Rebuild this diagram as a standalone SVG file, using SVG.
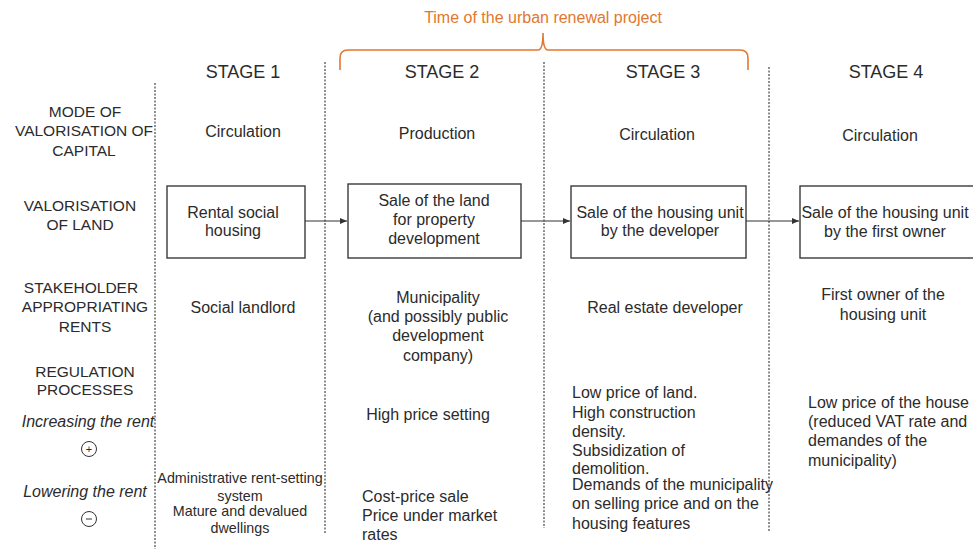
<svg xmlns="http://www.w3.org/2000/svg" width="973" height="549" viewBox="0 0 973 549">
  <style>
    text { font-family: "Liberation Sans", Arial, sans-serif; fill: #2b2b2b; }
    .hd { font-size: 18px; text-anchor: middle; }
    .lbl { font-size: 15.5px; text-anchor: middle; }
    .t { font-size: 16px; text-anchor: middle; }
    .tl { font-size: 16px; }
    .sm { font-size: 14.3px; text-anchor: middle; }
    .it { font-size: 16px; font-style: italic; text-anchor: middle; }
    .box { fill: #ffffff; stroke: #3a3a3a; stroke-width: 1.4; }
    .sep { stroke: #333; stroke-width: 1.1; stroke-dasharray: 2 1.5; fill: none; }
    .edge { stroke: #333; stroke-width: 1.2; fill: none; marker-end: url(#arr); }
    .orange { fill: #E2772F; font-size: 16px; text-anchor: middle; }
    .brace { stroke: #E2772F; stroke-width: 1.6; fill: none; }
    .sign { fill: none; stroke: #333; stroke-width: 1; }
  </style>
  <defs>
    <marker id="arr" markerWidth="8" markerHeight="8" refX="7" refY="4" orient="auto" markerUnits="userSpaceOnUse">
      <path d="M0,1 L7,4 L0,7 Z" fill="#333"/>
    </marker>
  </defs>

  <!-- column separators -->
  <g id="separators">
    <line class="sep" x1="155" y1="83" x2="155" y2="549"/>
    <line class="sep" x1="325" y1="62" x2="325" y2="534"/>
    <line class="sep" x1="544" y1="62" x2="544" y2="528"/>
    <line class="sep" x1="769" y1="67" x2="769" y2="532"/>
  </g>

  <!-- project duration brace -->
  <g id="project-time">
    <path class="brace" d="M340,70 L340,58 Q340,50 348,50 L538,50 Q543,50 543,33 Q543,50 548,50 L740,50 Q748,50 748,58 L748,70"/>
    <text class="orange" x="543" y="23">Time  of the urban  renewal  project</text>
  </g>

  <!-- stage headings -->
  <g id="headings">
    <text class="hd" x="243" y="78">STAGE 1</text>
    <text class="hd" x="442" y="78">STAGE 2</text>
    <text class="hd" x="663" y="78">STAGE 3</text>
    <text class="hd" x="886" y="78">STAGE 4</text>
  </g>

  <!-- row labels -->
  <g id="row-labels">
    <text class="lbl" x="85" y="117">MODE OF</text>
    <text class="lbl" x="84" y="136">VALORISATION  OF</text>
    <text class="lbl" x="84" y="156">CAPITAL</text>
    <text class="lbl" x="80" y="211">VALORISATION</text>
    <text class="lbl" x="80" y="230">OF LAND</text>
    <text class="lbl" x="81" y="293">STAKEHOLDER</text>
    <text class="lbl" x="85" y="312">APPROPRIATING</text>
    <text class="lbl" x="85" y="332">RENTS</text>
    <text class="lbl" x="85" y="377">REGULATION</text>
    <text class="lbl" x="85" y="395">PROCESSES</text>
    <text class="it" x="88" y="427">Increasing the rent</text>
    <circle class="sign" cx="89" cy="449" r="7.5"/>
    <text x="89" y="453" style="font-size:11px;text-anchor:middle">+</text>
    <text class="it" x="85" y="497">Lowering the rent</text>
    <circle class="sign" cx="89" cy="519" r="7.5"/>
    <line x1="86" y1="519" x2="92" y2="519" stroke="#333" stroke-width="1"/>
  </g>

  <!-- mode of valorisation of capital -->
  <g id="capital-mode">
    <text class="t" x="243" y="137">Circulation</text>
    <text class="t" x="437" y="139">Production</text>
    <text class="t" x="657" y="140">Circulation</text>
    <text class="t" x="880" y="141">Circulation</text>
  </g>

  <!-- connectors between land valorisation steps -->
  <g id="connectors">
    <line class="edge" x1="305" y1="221" x2="347" y2="221"/>
    <line class="edge" x1="521" y1="221" x2="570" y2="221"/>
    <line class="edge" x1="746" y1="221" x2="799" y2="221"/>
  </g>

  <!-- land valorisation nodes -->
  <g id="node-rental">
    <rect class="box" x="167" y="186" width="138" height="72"/>
    <text class="t" x="233" y="218">Rental social</text>
    <text class="t" x="233" y="236">housing</text>
  </g>
  <g id="node-land-sale">
    <rect class="box" x="348" y="184" width="173" height="74"/>
    <text class="t" x="434" y="206">Sale of the land</text>
    <text class="t" x="434" y="225">for property</text>
    <text class="t" x="434" y="244">development</text>
  </g>
  <g id="node-developer-sale">
    <rect class="box" x="571" y="186" width="175" height="72"/>
    <text class="t" x="660" y="218">Sale of the housing unit</text>
    <text class="t" x="660" y="236">by the developer</text>
  </g>
  <g id="node-owner-sale">
    <rect class="box" x="800" y="186" width="180" height="72"/>
    <text class="t" x="885" y="218">Sale of the housing unit</text>
    <text class="t" x="885" y="237">by the first owner</text>
  </g>

  <!-- stakeholders appropriating rents -->
  <g id="stakeholders">
    <text class="t" x="243" y="313">Social landlord</text>
    <text class="t" x="438" y="303">Municipality</text>
    <text class="t" x="438" y="322">(and possibly public</text>
    <text class="t" x="438" y="341">development</text>
    <text class="t" x="438" y="361">company)</text>
    <text class="t" x="665" y="313">Real estate developer</text>
    <text class="t" x="883" y="300">First owner of the</text>
    <text class="t" x="883" y="320">housing unit</text>
  </g>

  <!-- regulation processes -->
  <g id="regulation">
    <text class="t" x="428" y="420">High price setting</text>
    <text class="sm" x="240" y="483">Administrative rent-setting</text>
    <text class="sm" x="240" y="501">system</text>
    <text class="sm" x="240" y="516">Mature and devalued</text>
    <text class="sm" x="240" y="533">dwellings</text>
    <text class="tl" x="362" y="502">Cost-price sale</text>
    <text class="tl" x="362" y="521">Price under market</text>
    <text class="tl" x="362" y="540">rates</text>
    <text class="tl" x="572" y="398">Low price of land.</text>
    <text class="tl" x="572" y="418">High construction</text>
    <text class="tl" x="572" y="437">density.</text>
    <text class="tl" x="572" y="456">Subsidization of</text>
    <text class="tl" x="572" y="474">demolition.</text>
    <text class="tl" x="572" y="490">Demands of the municipality</text>
    <text class="tl" x="572" y="509">on selling price and on the</text>
    <text class="tl" x="572" y="529">housing features</text>
    <text class="tl" x="808" y="408">Low price of the house</text>
    <text class="tl" x="808" y="427">(reduced VAT rate and</text>
    <text class="tl" x="808" y="446">demandes of the</text>
    <text class="tl" x="808" y="466">municipality)</text>
  </g>
</svg>
